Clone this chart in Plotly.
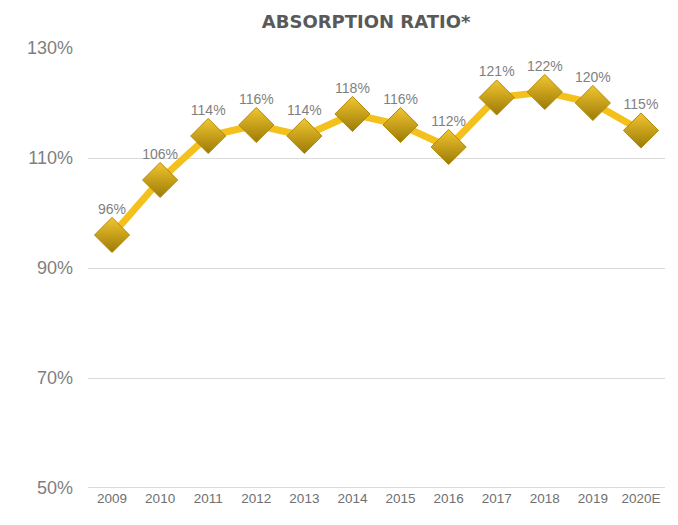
import plotly.graph_objects as go

years = ["2009", "2010", "2011", "2012", "2013", "2014", "2015", "2016", "2017", "2018", "2019", "2020E"]
ratio = [96, 106, 114, 116, 114, 118, 116, 112, 121, 122, 120, 115]
y_ticks = [50, 70, 90, 110, 130]
y_tick_labels = ["50%", "70%", "90%", "110%", "130%"]

fig = go.Figure()
fig.add_trace(go.Scatter(
    x=years, y=ratio, mode="lines+markers+text",
    line=dict(color="#F3C01C", width=7),
    marker=dict(symbol="diamond", size=27, color="#F2C630",
                gradient=dict(type="vertical", color="#9C7A06"),
                line=dict(color="#B18A0C", width=1)),
    text=[f"{v}%" for v in ratio], textposition="top center",
    textfont=dict(family="Liberation Sans, Arial", size=14, color="#7F7F7F"),
    cliponaxis=False, hoverinfo="skip",
))

fig.update_layout(
    width=678, height=525,
    margin=dict(l=88, r=13, t=48, b=37),
    paper_bgcolor="white", plot_bgcolor="white",
    showlegend=False,
    title=dict(text="<b>ABSORPTION RATIO*</b>", x=0.54, xanchor="center",
               y=0.958, yanchor="middle",
               font=dict(family="DejaVu Sans", size=18, color="#595959")),
    xaxis=dict(type="category", range=[-0.5, 11.5], showgrid=False, zeroline=False,
               showline=False, ticks="",
               tickfont=dict(family="Liberation Sans Narrow, Liberation Sans, Arial",
                             size=13.5, color="#6F6F6F")),
    yaxis=dict(range=[50, 130], tickvals=y_ticks, ticktext=y_tick_labels,
               showgrid=True, gridcolor="#DADADA", gridwidth=1, zeroline=False,
               showline=False, ticks="", ticklabelstandoff=14,
               tickfont=dict(family="Liberation Sans, Arial", size=18, color="#7F7F7F")),
)
fig.add_hline(y=50, line=dict(color="#CFCFCF", width=1.5))
fig.write_html("out.html")
